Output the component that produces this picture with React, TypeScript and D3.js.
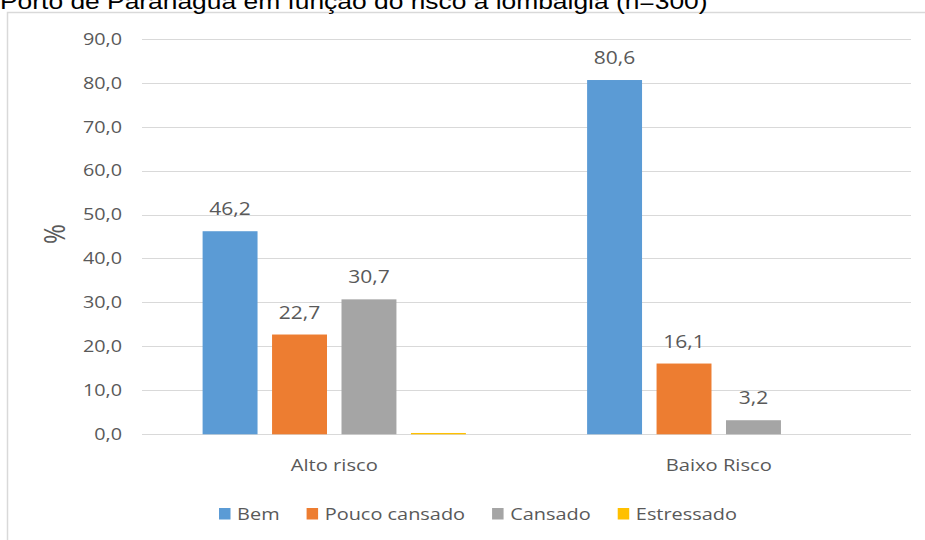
import React from 'react';
import * as d3 from 'd3';

// Data
const title = 'Porto de Paranaguá em função do risco à lombalgia (n=300)';
const yLabel = '%';
const categories = ['Alto risco', 'Baixo Risco'];
const seriesNames = ['Bem', 'Pouco cansado', 'Cansado', 'Estressado'];
const bem = [46.2, 80.6];
const poucoCansado = [22.7, 16.1];
const cansado = [30.7, 3.2];
const estressado = [0.3, 0];
const labelledSeries = ['Bem', 'Pouco cansado', 'Cansado'];
const yTicks = [0, 10, 20, 30, 40, 50, 60, 70, 80, 90];
const colors = ['#5b9bd5', '#ed7d31', '#a5a5a5', '#ffc000'];

const seriesValues = [bem, poucoCansado, cansado, estressado];

// Layout
const W = 925;
const H = 540;
const plot = { left: 142, right: 911, top: 38.7, bottom: 434.3 };
const SX = 1.2; // horizontal glyph stretch
const FONT = '"Open Sans", sans-serif';
const TEXT = '#595959';
const GRID = '#d9d9d9';

const fmt = (v: number) => v.toFixed(1).replace('.', ',');

let measureCtx: CanvasRenderingContext2D | null = null;
function textWidth(s: string, size: number, family = FONT) {
  if (!measureCtx) measureCtx = document.createElement('canvas').getContext('2d');
  if (!measureCtx) return s.length * size * 0.55;
  measureCtx.font = `${size}px ${family}`;
  return measureCtx.measureText(s).width;
}

function SText({ x, y, size, anchor = 'start', rotate = 0, family = FONT, fill = TEXT, children }: any) {
  return (
    <text
      transform={`translate(${x},${y}) scale(${SX},1)${rotate ? ` rotate(${rotate})` : ''}`}
      fontSize={size}
      fontFamily={family}
      fill={fill}
      textAnchor={anchor}
    >
      {children}
    </text>
  );
}

export default function App() {
  const y = d3.scaleLinear().domain([0, 90]).range([plot.bottom, plot.top]);
  const x0 = d3.scaleBand<string>().domain(categories).range([plot.left, plot.right]).padding(0);
  const groupPad = 60.6;
  const x1 = d3
    .scaleBand<string>()
    .domain(seriesNames)
    .range([groupPad, x0.bandwidth() - groupPad])
    .paddingInner(0.209)
    .paddingOuter(0);

  const tickSize = 16.5;
  const dataSize = 17.5;
  const catSize = 16.8;
  const legendSize = 16.6;

  // Legend layout, centred under the chart area
  const sq = 11.5;
  const sqGap = 6.6;
  const itemGap = 27;
  const itemWidths = seriesNames.map((n) => sq + sqGap + textWidth(n, legendSize) * SX);
  const legendTotal = d3.sum(itemWidths) + itemGap * (seriesNames.length - 1);
  const legendCenter = 478;
  let cursor = legendCenter - legendTotal / 2;
  const legendX = itemWidths.map((w) => {
    const xPos = cursor;
    cursor += w + itemGap;
    return xPos;
  });
  const legendBaseline = 519.5;

  return (
    <svg
      width={W}
      height={H}
      style={{ position: 'fixed', left: 0, top: 0, background: '#fff' }}
      xmlns="http://www.w3.org/2000/svg"
    >
      <rect x={0} y={0} width={W} height={H} fill="#fff" />
      {/* chart frame */}
      <rect x={7.5} y={12.5} width={1100} height={700} fill="none" stroke={GRID} strokeWidth={1.5} />

      {/* title */}
      <SText x={0} y={9} size={22} family='"Liberation Sans", Arial, sans-serif' fill="#000">
        {title}
      </SText>

      {/* gridlines */}
      {yTicks.map((t) => (
        <line
          key={t}
          x1={plot.left}
          x2={plot.right}
          y1={Math.round(y(t)) + 0.5}
          y2={Math.round(y(t)) + 0.5}
          stroke={GRID}
          strokeWidth={1}
        />
      ))}

      {/* y tick labels */}
      {yTicks.map((t) => (
        <SText key={t} x={122} y={y(t) + tickSize * 0.357} size={tickSize} anchor="end">
          {fmt(t)}
        </SText>
      ))}

      {/* y axis title */}
      <SText x={65} y={234} size={24} anchor="middle" rotate={-90}>
        {yLabel}
      </SText>

      {/* bars */}
      {categories.map((c, ci) => (
        <g key={c} transform={`translate(${x0(c)},0)`}>
          {seriesNames.map((s, si) => {
            const v = seriesValues[si][ci];
            if (v <= 0) return null;
            const bx = x1(s)!;
            const by = y(v);
            return (
              <rect
                key={s}
                x={bx}
                y={by}
                width={x1.bandwidth()}
                height={plot.bottom - by}
                fill={colors[si]}
              />
            );
          })}
          {seriesNames.map((s, si) => {
            const v = seriesValues[si][ci];
            if (!labelledSeries.includes(s) || v <= 0) return null;
            return (
              <SText
                key={s}
                x={x1(s)! + x1.bandwidth() / 2}
                y={y(v) - 16}
                size={dataSize}
                anchor="middle"
              >
                {fmt(v)}
              </SText>
            );
          })}
        </g>
      ))}

      {/* category labels */}
      {categories.map((c) => (
        <SText key={c} x={x0(c)! + x0.bandwidth() / 2} y={470.7} size={catSize} anchor="middle">
          {c}
        </SText>
      ))}

      {/* legend */}
      {seriesNames.map((n, i) => (
        <g key={n}>
          <rect x={legendX[i]} y={legendBaseline - sq} width={sq} height={sq} fill={colors[i]} />
          <SText x={legendX[i] + sq + sqGap} y={legendBaseline} size={legendSize}>
            {n}
          </SText>
        </g>
      ))}
    </svg>
  );
}
